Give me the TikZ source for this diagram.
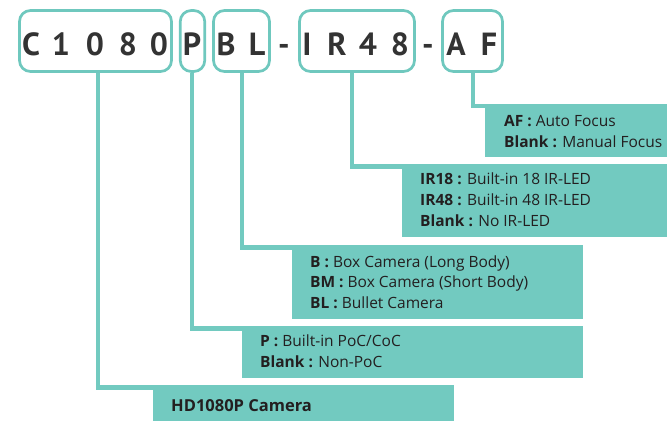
\documentclass[tikz,border=0pt]{standalone}
\usepackage{fontspec}
\setmainfont{PT Sans}
\newfontfamily\descfont{Open Sans}
\definecolor{teal1}{HTML}{72CAC0}
\definecolor{tealline}{HTML}{6FC8BE}
\definecolor{txt}{HTML}{231F20}
\definecolor{big}{HTML}{333333}
\tikzset{
  codebox/.style={draw=tealline, line width=2.7pt, rounded corners=11pt, inner sep=0pt, fill=white},
  letter/.style={anchor=base, inner sep=0pt, text=big, font=\fontsize{32}{32}\selectfont\bfseries},
  desc/.style={fill=teal1, inner sep=0pt, anchor=north west},
  conn/.style={draw=teal1, line width=4.5pt, line join=miter},
  line/.style={anchor=base west, inner sep=0pt, text=txt, font=\descfont\fontsize{15.5}{18}\selectfont},
}
\begin{document}
\begin{tikzpicture}[x=1pt,y=-1pt]
\useasboundingbox (0,0) rectangle (667,421);
% description boxes
\node[desc, minimum width=182pt, minimum height=53pt] (afd) at (485,104) {};
\node[desc, minimum width=265pt, minimum height=73pt] (ird) at (402,164) {};
\node[desc, minimum width=291pt, minimum height=74pt] (bd) at (292,245) {};
\node[desc, minimum width=341pt, minimum height=52pt] (pd) at (242,326) {};
\node[desc, minimum width=301pt, minimum height=36pt] (hdd) at (153,385) {};
% code boxes
\node[codebox, minimum width=152pt, minimum height=61pt] (cbox) at (95.5,41) {};
\node[codebox, minimum width=24.5pt, minimum height=61pt] (pbox) at (192.5,41) {};
\node[codebox, minimum width=56pt, minimum height=61pt] (blbox) at (241.5,41) {};
\node[codebox, minimum width=115pt, minimum height=61pt] (irbox) at (357,41) {};
\node[codebox, minimum width=60pt, minimum height=61pt] (afbox) at (472.5,41) {};
% connectors
\draw[conn] (cbox.south -| 98,0) |- ([yshift=-2.5pt]hdd.north west);
\draw[conn] (pbox.south -| 192,0) |- ([yshift=-2.5pt]pd.north west);
\draw[conn] (blbox.south -| 242,0) |- ([yshift=-2.5pt]bd.north west);
\draw[conn] (irbox.south -| 352,0) |- ([yshift=-2.5pt]ird.north west);
\draw[conn] (afbox.south -| 473,0) |- ([yshift=-2pt]afd.north west);
% redraw description boxes over connector ends
\fill[teal1] (afd.north west) rectangle (afd.south east);
\fill[teal1] (ird.north west) rectangle (ird.south east);
\fill[teal1] (bd.north west) rectangle (bd.south east);
\fill[teal1] (pd.north west) rectangle (pd.south east);
\fill[teal1] (hdd.north west) rectangle (hdd.south east);
% code letters
\node[letter] (l1) at (31,55) {C};
\node[letter] (l2) at (61,55) {1};
\node[letter] (l3) at (95,55) {0};
\node[letter] (l4) at (128,55) {8};
\node[letter] (l5) at (159,55) {0};
\node[letter] (l6) at (192,55) {P};
\node[letter] (l7) at (226,55) {B};
\node[letter] (l8) at (257,55) {L};
\node[letter] (d1) at (284,55) {-};
\node[letter] (l9) at (307,55) {I};
\node[letter] (l10) at (337,55) {R};
\node[letter] (l11) at (368,55) {4};
\node[letter] (l12) at (400,55) {8};
\node[letter] (d2) at (428,55) {-};
\node[letter] (l13) at (456,55) {A};
\node[letter] (l14) at (489,55) {F};
% descriptions
\node[line] (t1) at (504,126) {\textbf{AF :} Auto Focus};
\node[line] (t2) at (504,147) {\textbf{Blank :} Manual Focus};
\node[line] (t3) at (420,184) {\textbf{IR18 :} Built-in 18 IR-LED};
\node[line] (t4) at (420,205) {\textbf{IR48 :} Built-in 48 IR-LED};
\node[line] (t5) at (420,226) {\textbf{Blank :} No IR-LED};
\node[line] (t6) at (310,267) {\textbf{B :} Box Camera (Long Body)};
\node[line] (t7) at (310,287) {\textbf{BM :} Box Camera (Short Body)};
\node[line] (t8) at (310,308) {\textbf{BL :} Bullet Camera};
\node[line] (t9) at (260,346) {\textbf{P :} Built-in PoC/CoC};
\node[line] (t10) at (260,367) {\textbf{Blank :} Non-PoC};
\node[line, font=\descfont\fontsize{16.5}{18}\selectfont] (t11) at (171,411) {\textbf{HD1080P Camera}};
\end{tikzpicture}
\end{document}
